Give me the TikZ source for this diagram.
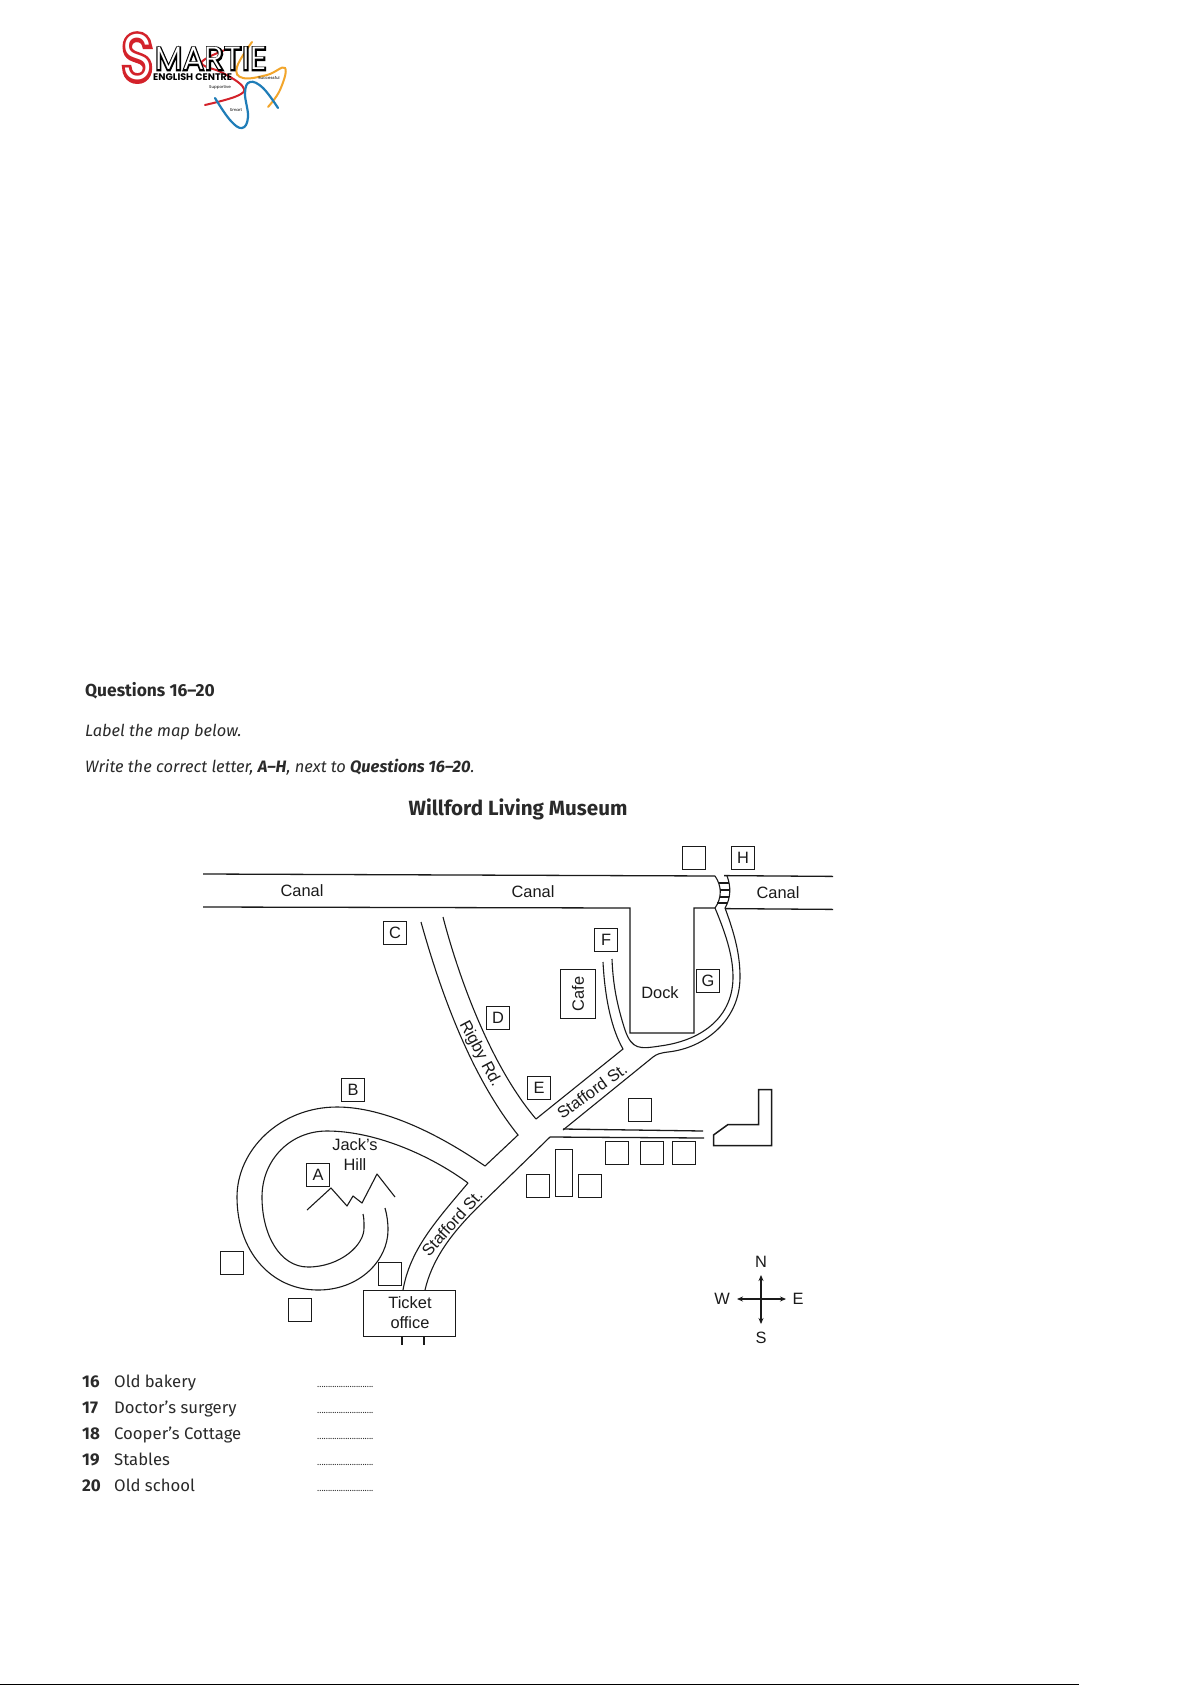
\documentclass[tikz,border=0pt]{standalone}
\usepackage{fontspec}
\setmainfont{Fira Sans}
\newfontfamily\mapfont{Liberation Sans}
\newfontfamily\logofont{Poppins}
\newfontfamily\logothin[UprightFont=* Light,LetterSpace=3]{Poppins}
\newfontfamily\logofat[UprightFont=* Light,LetterSpace=3,FakeBold=9]{Poppins}
\newfontfamily\logoSthin[UprightFont=* Light]{Poppins}
\newfontfamily\logoSfat[UprightFont=* Light,FakeBold=11]{Poppins}
\usetikzlibrary{arrows.meta}
\definecolor{ink}{HTML}{1A1A1A}
\definecolor{txt}{HTML}{2A2A2A}
\definecolor{lred}{HTML}{D3222A}
\definecolor{lorange}{HTML}{F2A52B}
\definecolor{lblue}{HTML}{1F7DB8}
\tikzset{
  road/.style={draw=ink,line width=1.1pt},
  canal/.style={draw=ink,line width=1.3pt},
  bldg/.style={draw=ink,line width=1.5pt},
  maplabel/.style={font=\mapfont\fontsize{16.4}{18}\selectfont,text=ink,inner sep=0pt},
  letterbox/.style={draw=ink,line width=1.5pt,font=\mapfont\fontsize{16.4}{17}\selectfont,text=ink,
     inner sep=0pt,minimum width=23pt,minimum height=23pt},
  emptybox/.style={draw=ink,line width=1.5pt,inner sep=0pt,minimum width=23pt,minimum height=23pt},
  body/.style={font=\fontsize{16.7}{20}\selectfont,text=txt,inner sep=0pt,anchor=base west},
}
\newcommand{\logotext}[2]{\rlap{\logofat\fontsize{#2}{#2}\selectfont\color{black}#1}{\logothin\fontsize{#2}{#2}\selectfont\color{white}#1}}
\newcommand{\logoinitial}[2]{\rlap{\logoSfat\fontsize{#2}{#2}\selectfont\color{lred}#1}{\logoSthin\fontsize{#2}{#2}\selectfont\color{white}#1}}
\begin{document}
\begin{tikzpicture}[x=1pt,y=-1pt]
\useasboundingbox (0,0) rectangle (1192,1685);
\fill[white] (0,0) rectangle (1192,1685);
% ---------- logo
\draw[lred,line width=2pt,line cap=round] plot[smooth,tension=.7] coordinates {(205,105)(237,96)(243,87)(223,73)(203,65)(207,58)(230,48)};
\draw[lorange,line width=2pt,line cap=round] plot[smooth,tension=.7] coordinates {(252,42)(237,67)(243,78)(267,75)(285,68)(280,90)(268,107)};
\draw[lblue,line width=2.2pt,line cap=round] plot[smooth,tension=.7] coordinates {(215,98)(230,120)(242,128)(248,117)(245,93)(250,82)(263,88)(278,108)};
\node[inner sep=0pt,anchor=base west,xscale=.82] (logoS) at (122,80) {\logoinitial{S}{64}};
\node[inner sep=0pt,anchor=base west] (logoM) at (155,70) {\logotext{MARTIE}{32}};
\node[inner sep=0pt,anchor=base west,font=\logofont\fontsize{9.6}{10}\selectfont\bfseries] (logoE) at (153,81) {ENGLISH CENTRE};
\node[inner sep=0pt,font=\logofont\fontsize{4}{5}\selectfont] (logoA) at (220,88) {Supportive};
\node[inner sep=0pt,font=\logofont\fontsize{4}{5}\selectfont] (logoB) at (269,78) {Successful};
\node[inner sep=0pt,font=\logofont\fontsize{4}{5}\selectfont] (logoC) at (236,110) {Smart};
% ---------- headings
\node[body,font=\bfseries\fontsize{17.4}{20}\selectfont] (h1) at (85,696) {Questions 16–20};
\node[body,font=\itshape\fontsize{16.4}{20}\selectfont] (h2) at (85,736) {Label the map below.};
\node[body,font=\itshape\fontsize{16.5}{20}\selectfont] (h3) at (85,772) {Write the correct letter, {\bfseries A–H}, next to {\bfseries Questions 16–20}.};
\node[body,font=\bfseries\fontsize{20.6}{24}\selectfont,anchor=base] (title) at (518,815) {Willford Living Museum};
% ---------- canal
\draw[canal] (203,874) -- (715,876);
\draw[canal] (724,875.6) -- (833,876.4);
\draw[canal] (203,907) -- (630,908) -- (630,1033) -- (694,1033) -- (694,908) -- (715,908);
\draw[canal] (725,908.6) -- (833,909.4);
% bridge
\draw[road] (715,876) .. controls (722,886) and (722,898) .. (715,908);
\draw[road] (727,876) .. controls (731,886) and (731,898) .. (725,908);
\foreach \yy/\xa/\xb in {883/719/729,890/720/730,897/720/729,903/717/727} \draw[road] (\xa,\yy) -- (\xb,\yy);
% roads
\draw[road] (725,908) .. controls (735,935) and (740,955) .. (740,977) .. controls (740,1020) and (705,1048) .. (668,1052) .. controls (660,1053) and (657,1054) .. (653,1057) -- (563,1130);
\draw[road] (715,908) .. controls (725,932) and (733,955) .. (733,977) .. controls (733,1015) and (705,1040) .. (660,1046) .. controls (640,1049) and (632,1050) .. (625,1030) .. controls (617,1005) and (613,985) .. (612,959);
\draw[road] (603,962) .. controls (605,1000) and (612,1030) .. (623,1049) -- (536,1119);
\draw[road] (443,917) .. controls (458,975) and (490,1065) .. (536,1119);
\draw[road] (421,922) .. controls (440,990) and (470,1075) .. (518,1135) -- (485,1166);
\draw[road] (485,1166) .. controls (440,1135) and (385,1107) .. (337,1107) .. controls (280,1107) and (237,1150) .. (237,1197) .. controls (237,1250) and (270,1290) .. (318,1290) .. controls (360,1290) and (388,1260) .. (388,1230) .. controls (388,1222) and (387,1215) .. (385,1208);
\draw[road] (468,1183) .. controls (430,1155) and (375,1131) .. (327,1131) .. controls (290,1131) and (262,1160) .. (262,1197) .. controls (262,1235) and (280,1267) .. (308,1267) .. controls (340,1267) and (365,1245) .. (364,1227) .. controls (364,1222) and (364,1218) .. (363,1214);
\draw[road] (468,1183) .. controls (435,1222) and (410,1250) .. (403,1290);
\draw[road] (425,1290) .. controls (432,1260) and (450,1235) .. (477,1208) -- (550,1137);
\draw[canal] (550,1137) -- (704,1138);
\draw[canal] (563,1129) -- (703,1131);
% mountain
\draw[road,line join=round] (307,1210) -- (331,1188) -- (347,1206) -- (353,1196) -- (362,1203) -- (377,1174) -- (395,1197);
% ---------- lettered boxes
\node[letterbox] (boxH) at (743,858) {H};
\node[letterbox] (boxC) at (395,933) {C};
\node[letterbox] (boxD) at (498,1018) {D};
\node[letterbox] (boxB) at (353,1090) {B};
\node[letterbox] (boxF) at (606,940) {F};
\node[letterbox] (boxG) at (708,981) {G};
\node[letterbox] (boxE) at (539,1088) {E};
\node[letterbox] (boxA) at (318,1175) {A};
% ---------- empty buildings
\node[emptybox] (b1) at (694,858) {};
\node[emptybox] (b2) at (640,1110) {};
\node[emptybox] (b3) at (617,1153) {};
\node[emptybox] (b4) at (652,1153) {};
\node[emptybox] (b5) at (684,1153) {};
\node[emptybox] (b6) at (538,1186) {};
\node[emptybox] (b7) at (590,1186) {};
\node[emptybox] (b8) at (232,1263) {};
\node[emptybox] (b9) at (300,1310) {};
\node[emptybox] (b10) at (390,1274) {};
\node[bldg,inner sep=0pt,minimum width=17pt,minimum height=47pt] (tall) at (564,1173) {};
\node[bldg,inner sep=0pt,minimum width=35pt,minimum height=49pt] (cafe) at (578,994) {};
\node[maplabel,rotate=90] (cafetext) at (578,994) {Cafe};
\draw[bldg] (713.5,1135) -- (728,1124.5) -- (758.5,1124.5) -- (758.5,1089.5) -- (771.5,1089.5) -- (771.5,1145.5) -- (713.5,1145.5) -- cycle;
% ticket office
\node[bldg,inner sep=0pt,minimum width=92pt,minimum height=46pt] (ticket) at (409.5,1313.5) {};
\node[maplabel] (tick1) at (410,1303) {Ticket};
\node[maplabel] (tick2) at (410,1323) {office};
\draw[road] (402,1337) -- (402,1345);
\draw[road] (424,1337) -- (424,1345);
% ---------- map labels
\node[maplabel] (c1) at (302,891) {Canal};
\node[maplabel] (c2) at (533,892) {Canal};
\node[maplabel] (c3) at (778,893) {Canal};
\node[maplabel] (dock) at (660,993) {Dock};
\node[maplabel] (jack) at (355,1145) {Jack’s};
\node[maplabel] (hill) at (355,1165) {Hill};
\node[maplabel,rotate=-62] (rigby) at (480,1054) {Rigby Rd.};
\node[maplabel,rotate=36] (st1) at (592,1091) {Stafford St.};
\node[maplabel,rotate=48] (st2) at (452,1223) {Stafford St.};
% ---------- compass
\coordinate (cc) at (761,1299);
\node[maplabel] (N) at (761,1262) {N};
\node[maplabel] (S) at (761,1338) {S};
\node[maplabel] (W) at (722,1299) {W};
\node[maplabel] (E) at (798,1299) {E};
\draw[road,-{Stealth[length=6pt,width=5pt]}] (cc) -- (761,1275);
\draw[road,-{Stealth[length=6pt,width=5pt]}] (cc) -- (761,1324);
\draw[road,-{Stealth[length=6pt,width=5pt]}] (cc) -- (737,1299);
\draw[road,-{Stealth[length=6pt,width=5pt]}] (cc) -- (786,1299);
% ---------- list
\foreach \n/\lab/\yy in {16/Old bakery/1387,17/Doctor’s surgery/1413,18/Cooper’s Cottage/1439,19/Stables/1465,20/Old school/1491}{
  \node[body,font=\bfseries\fontsize{17}{20}\selectfont] (n\n) at (82,\yy) {\n};
  \node[body] (t\n) at (114,\yy) {\lab};
  \node[body,font=\fontsize{9}{9}\selectfont,anchor=base west] (d\n) at (317,\yy) {..........................};
}
\fill[black] (0,1684) rectangle (1079,1685);
\end{tikzpicture}
\end{document}
